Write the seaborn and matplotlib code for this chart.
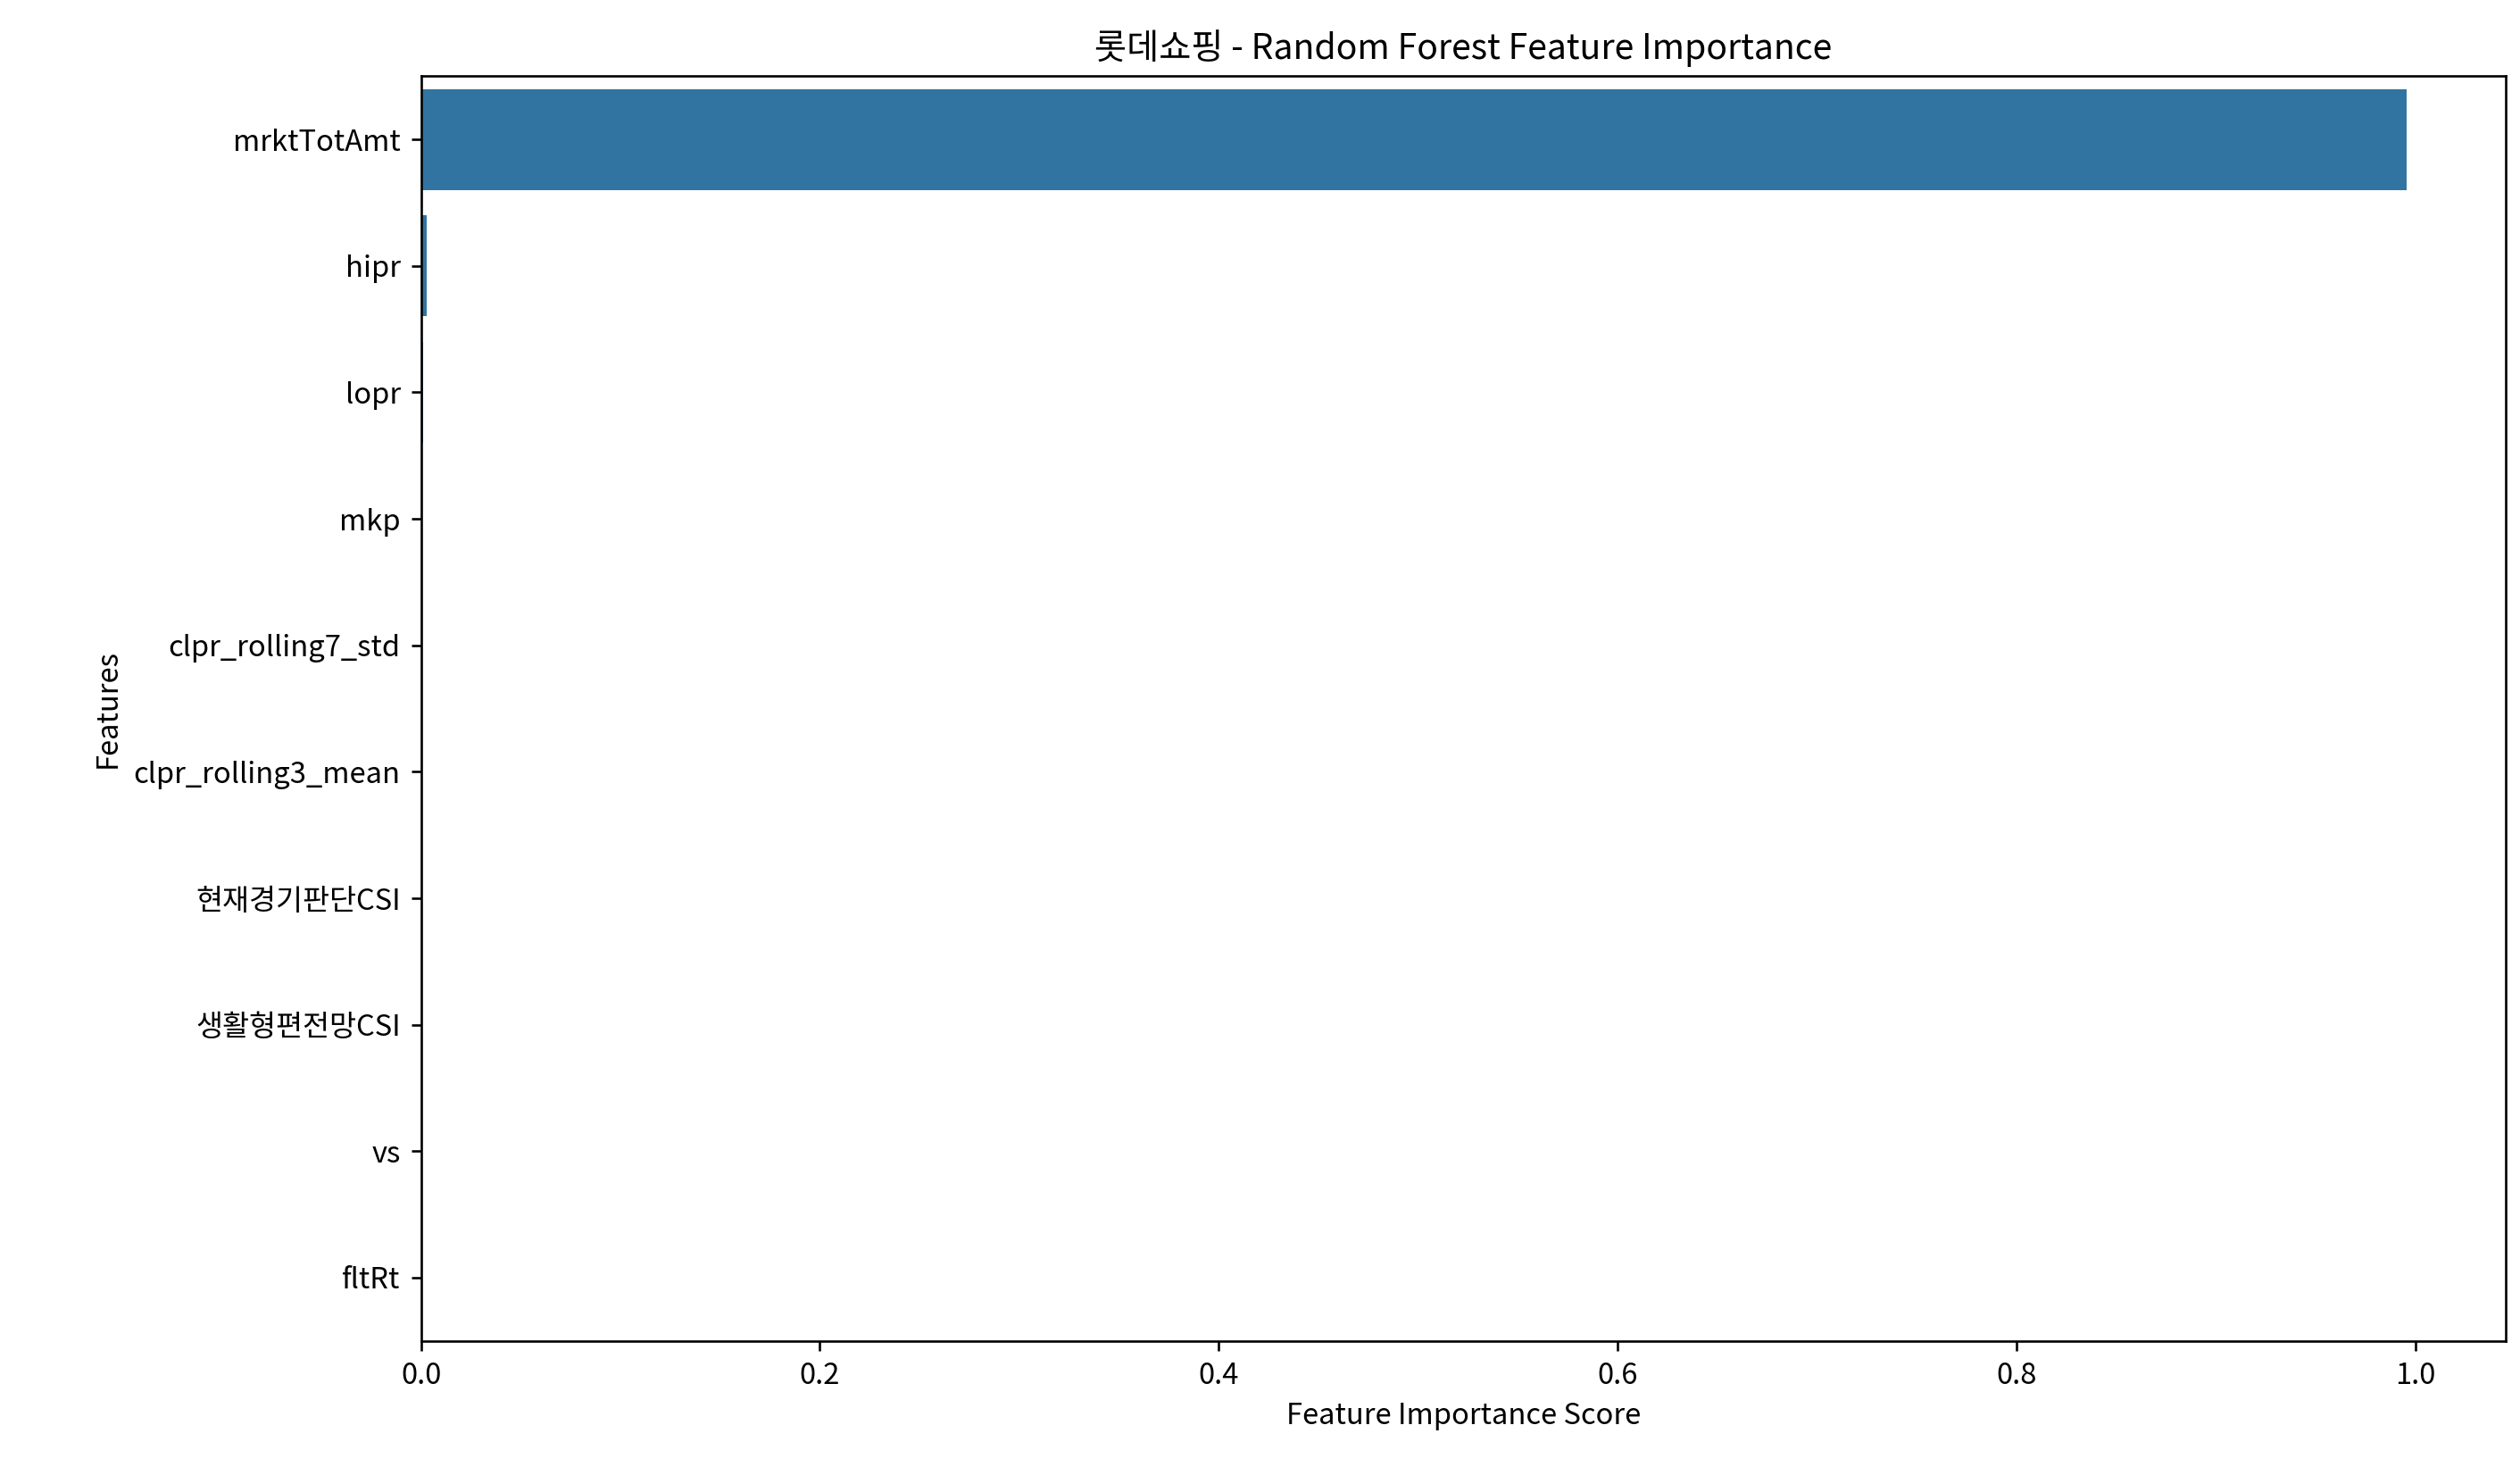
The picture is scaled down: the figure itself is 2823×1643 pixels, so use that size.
import matplotlib
matplotlib.use("Agg")
from matplotlib import pyplot as plt
import seaborn as sns
import pandas as pd

features = ["mrktTotAmt", "hipr", "lopr", "mkp", "clpr_rolling7_std",
            "clpr_rolling3_mean", "현재경기판단CSI", "생활형편전망CSI", "vs", "fltRt"]
importance = [0.9955, 0.0028, 0.0010, 0.0003, 0.0002,
              0.0001, 0.00005, 0.00004, 0.00003, 0.00002]

df = pd.DataFrame({"feature": features, "importance": importance})

plt.rcParams['font.family'] = ['Noto Sans CJK KR', 'DejaVu Sans']

fig = plt.figure(figsize=(12, 6.982), dpi=235.33)
ax = sns.barplot(data=df, x="importance", y="feature", color="#1f77b4", saturation=0.75)
ax.set_title("롯데쇼핑 - Random Forest Feature Importance", fontsize=12)
ax.set_xlabel("Feature Importance Score", fontsize=10)
ax.set_ylabel("Features", fontsize=10)
ax.tick_params(labelsize=10)
plt.subplots_adjust(left=0.167, right=0.994, top=0.948, bottom=0.086)
plt.savefig("out.png", dpi=235.33)
